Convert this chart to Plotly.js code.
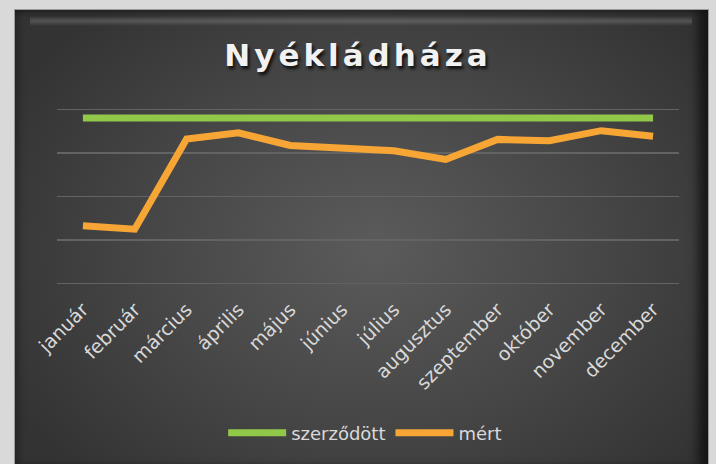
<!DOCTYPE html>
<html>
<head>
<meta charset="utf-8">
<script src="https://cdn.plot.ly/plotly-3.0.1.min.js"></script>
<style>
  html, body { margin:0; padding:0; background:#d9d9d9; }
  #wrap { position:relative; width:716px; height:464px; overflow:hidden; background:#d9d9d9; }
  #panel { position:absolute; left:14px; top:9px; width:695px; height:460px;
    border:1px solid #9a9a9a; box-sizing:border-box;
    background: radial-gradient(ellipse 60% 70% at 52% 52%, #5b5b5b 0%, #464646 55%, #333333 100%);
    box-shadow: inset -10px 0 10px rgba(0,0,0,0.55), inset 4px 0 6px rgba(0,0,0,0.25); }
  #bevel { position:absolute; left:30px; top:16px; width:662px; height:10px;
    background: linear-gradient(to bottom, rgba(255,255,255,0) 0%, rgba(255,255,255,0.16) 50%, rgba(255,255,255,0) 100%); }
  #chart { position:absolute; left:0; top:0; width:716px; height:464px; }
  .gtitle { letter-spacing: 4px; }
</style>
</head>
<body>
<div id="wrap">
  <div id="panel"></div>
  <div id="bevel"></div>
  <div id="chart"></div>
</div>
<script>
const months = ["január","február","március","április","május","június","július","augusztus","szeptember","október","november","december"];
const szerzodott = [380,380,380,380,380,380,380,380,380,380,380,380];
const mert = [133,125,332,346,317,312,305,285,331,328,351,338];

const traces = [
  {x: months, y: szerzodott, name: "szerződött", type: "scatter", mode: "lines",
   line: {color: "#92c84a", width: 7}},
  {x: months, y: mert, name: "mért", type: "scatter", mode: "lines",
   line: {color: "#f7a636", width: 7}}
];

const layout = {
  width: 716, height: 464,
  margin: {l: 57, r: 37, t: 108.4, b: 179.2},
  paper_bgcolor: "rgba(0,0,0,0)",
  plot_bgcolor: "rgba(0,0,0,0)",
  font: {family: "DejaVu Sans", color: "#d9d9d9"},
  title: {text: "Nyékládháza", x: 0.5, xanchor: "center", y: 1 - 55/464, yanchor: "middle", yref: "container",
          font: {family: "DejaVu Sans", size: 31, weight: 700, color: "#f2f2f2", shadow: "2px 3px 3px #111"}},
  xaxis: {type: "category", range: [-0.5, 11.5], showgrid: false, zeroline: false, showline: false,
          ticks: "outside", ticklen: 5, tickcolor: "rgba(0,0,0,0)", tickangle: -45,
          tickfont: {size: 19, color: "#d9d9d9"}},
  yaxis: {range: [-3, 403], tickvals: [0, 100, 200, 300, 400], showticklabels: false, showgrid: true, gridcolor: "#636363",
          gridwidth: 1.5, zeroline: false, showline: false, ticks: ""},
  showlegend: true,
  legend: {orientation: "h", x: 0.51, xanchor: "center", xref: "container", y: 1 - 433/464, yanchor: "middle", yref: "container",
           font: {size: 18, color: "#d9d9d9"}, itemwidth: 58, bgcolor: "rgba(0,0,0,0)"},
  hovermode: false
};

Plotly.newPlot("chart", traces, layout, {displayModeBar: false, staticPlot: true});
</script>
</body>
</html>
